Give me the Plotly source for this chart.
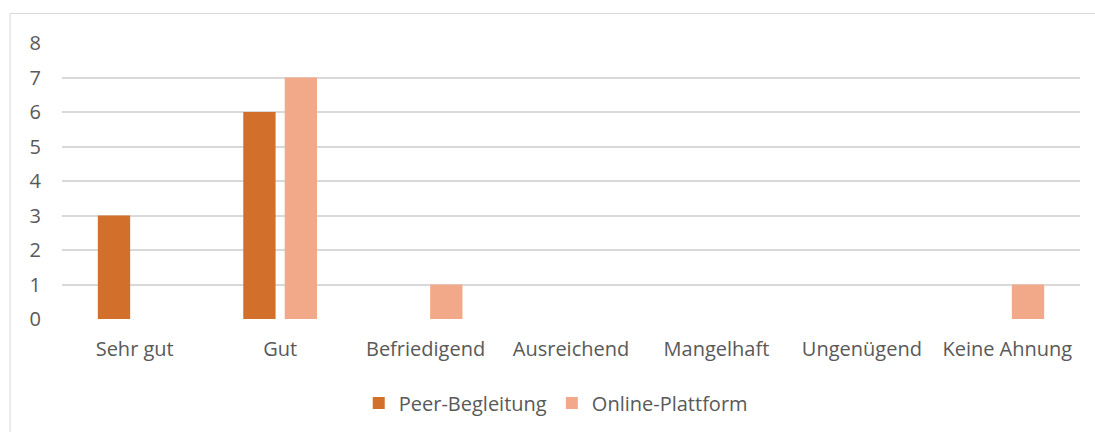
import plotly.graph_objects as go

categories = ["Sehr gut", "Gut", "Befriedigend", "Ausreichend", "Mangelhaft", "Ungenügend", "Keine Ahnung"]
peer_begleitung = [3, 6, 0, 0, 0, 0, 0]
online_plattform = [0, 7, 1, 0, 0, 0, 1]
y_ticks = [0, 1, 2, 3, 4, 5, 6, 7, 8]

FONT = "Open Sans"
TXT = "#595959"
FS = 20

T, B = 43, 113
H = 432 - T - B
fig = go.Figure()
fig.add_trace(go.Bar(name="Peer-Begleitung", x=categories, y=peer_begleitung,
                     marker=dict(color="#D2702B", line=dict(width=0))))
fig.add_trace(go.Bar(name="Online-Plattform", x=categories, y=online_plattform,
                     marker=dict(color="#F2A98A", line=dict(width=0))))

fig.update_layout(
    width=1095, height=432,
    margin=dict(l=62, r=15, t=T, b=B, autoexpand=False),
    paper_bgcolor="white", plot_bgcolor="white",
    barmode="group", bargap=0.43, bargroupgap=0.22,
    font=dict(family=FONT, size=FS, color=TXT),
    showlegend=True,
    legend=dict(orientation="h", x=0.485, xanchor="center", y=-(403 - (432 - B)) / H, yanchor="middle",
                font=dict(family=FONT, size=FS, color=TXT), traceorder="normal",
                itemwidth=30, itemsizing="constant"),
    shapes=[dict(type="rect", xref="paper", yref="paper",
                 x0=(10 - 62) / 1018, x1=1.2, y0=-0.6, y1=((432 - B) - 13.5) / H,
                 line=dict(color="#D9D9D9", width=1), fillcolor="rgba(0,0,0,0)", layer="below")],
)
fig.update_xaxes(showgrid=False, showline=False, zeroline=False, ticks="",
                 tickfont=dict(family=FONT, size=FS, color=TXT), ticklabelstandoff=16)
fig.update_yaxes(range=[0, 8], tickvals=y_ticks, showgrid=True, gridcolor="#D9D9D9", gridwidth=1.5,
                 zeroline=False, showline=False, ticks="",
                 tickfont=dict(family=FONT, size=FS, color=TXT), ticklabelstandoff=20)

fig.write_html("out.html", config={"displayModeBar": False},
               post_script="document.body.style.margin='0';document.body.style.padding='0';document.body.style.overflow='hidden';")
